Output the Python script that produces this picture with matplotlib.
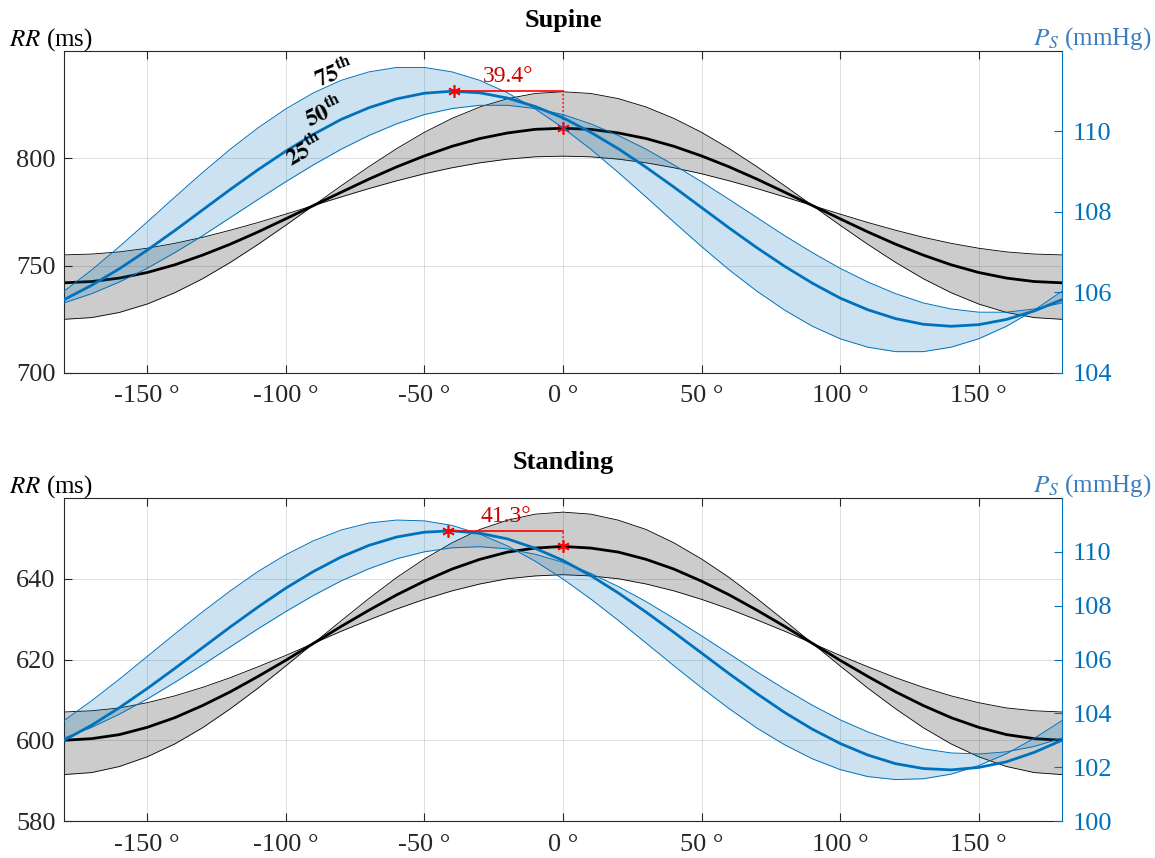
import matplotlib
matplotlib.use("Agg")
import matplotlib.pyplot as plt

plt.rcParams['font.family'] = ['Liberation Serif', 'DejaVu Serif']
plt.rcParams['mathtext.fontset'] = 'stix'
plt.rcParams['axes.unicode_minus'] = False

BLUE = '#0072BD'
AXIS = '#262626'

# respiratory phase (deg)
phase = [-180, -170, -160, -150, -140, -130, -120, -110, -100, -90, -80, -70, -60, -50, -40,
         -30, -20, -10, 0, 10, 20, 30, 40, 50, 60, 70, 80, 90, 100, 110, 120, 130, 140,
         150, 160, 170, 180]

# ---------- SUPINE ----------
sup_rr_25 = [755, 755.4, 756.4, 758.1, 760.4, 763.2, 766.5, 770.1, 774, 778, 782, 785.9, 789.5,
             792.8, 795.6, 797.9, 799.6, 800.7, 801, 800.7, 799.6, 797.9, 795.6, 792.8, 789.5,
             785.9, 782, 778, 774, 770.1, 766.5, 763.2, 760.4, 758.1, 756.4, 755.4, 755]
sup_rr_50 = [742, 742.6, 744.2, 746.8, 750.4, 754.9, 760, 765.7, 771.8, 778, 784.2, 790.3, 796,
             801.1, 805.6, 809.2, 811.8, 813.5, 814, 813.5, 811.8, 809.2, 805.6, 801.1, 796,
             790.3, 784.2, 778, 771.8, 765.7, 760, 754.9, 750.4, 746.8, 744.2, 742.6, 742]
sup_rr_75 = [725, 725.8, 728.2, 732.1, 737.4, 743.9, 751.5, 759.9, 768.8, 778, 787.2, 796.1, 804.5,
             812.1, 818.6, 823.9, 827.8, 830.2, 831, 830.2, 827.8, 823.9, 818.6, 812.1, 804.5,
             796.1, 787.2, 778, 768.8, 759.9, 751.5, 743.9, 737.4, 732.1, 728.2, 725.8, 725]

sup_ps_25 = [105.74, 105.97, 106.26, 106.60, 106.99, 107.41, 107.86, 108.31, 108.75, 109.17,
             109.56, 109.90, 110.19, 110.42, 110.57, 110.65, 110.65, 110.57, 110.42, 110.19,
             109.90, 109.56, 109.17, 108.75, 108.31, 107.86, 107.41, 106.99, 106.60, 106.26,
             105.97, 105.74, 105.59, 105.51, 105.51, 105.59, 105.74]
sup_ps_50 = [105.82, 106.18, 106.59, 107.05, 107.54, 108.05, 108.56, 109.05, 109.51, 109.93,
             110.30, 110.59, 110.81, 110.95, 111.00, 110.96, 110.83, 110.62, 110.34, 109.98,
             109.57, 109.11, 108.62, 108.11, 107.60, 107.11, 106.65, 106.23, 105.86, 105.57,
             105.35, 105.21, 105.16, 105.20, 105.33, 105.54, 105.82]
sup_ps_75 = [106.03, 106.56, 107.14, 107.75, 108.37, 108.98, 109.56, 110.09, 110.56, 110.96,
             111.27, 111.48, 111.59, 111.59, 111.48, 111.27, 110.96, 110.56, 110.09, 109.56,
             108.98, 108.37, 107.75, 107.14, 106.56, 106.03, 105.56, 105.16, 104.85, 104.64,
             104.53, 104.53, 104.64, 104.85, 105.16, 105.56, 106.03]

# ---------- STANDING ----------
sta_rr_25 = [607, 607.3, 608.0, 609.3, 611.0, 613.1, 615.5, 618.2, 621.0, 624, 627.0, 629.8, 632.5,
             634.9, 637.0, 638.7, 640.0, 640.7, 641, 640.7, 640.0, 638.7, 637.0, 634.9, 632.5,
             629.8, 627.0, 624, 621.0, 618.2, 615.5, 613.1, 611.0, 609.3, 608.0, 607.3, 607]
sta_rr_50 = [600, 600.4, 601.4, 603.2, 605.6, 608.6, 612, 615.8, 619.8, 624, 628.2, 632.2, 636,
             639.4, 642.4, 644.8, 646.6, 647.6, 648, 647.6, 646.6, 644.8, 642.4, 639.4, 636,
             632.2, 628.2, 624, 619.8, 615.8, 612, 608.6, 605.6, 603.2, 601.4, 600.4, 600]
sta_rr_75 = [591.5, 592.0, 593.5, 595.9, 599.1, 603.1, 607.8, 612.9, 618.4, 624, 629.6, 635.1, 640.3,
             644.9, 648.9, 652.2, 654.5, 656.0, 656.5, 656.0, 654.5, 652.2, 648.9, 644.9, 640.3,
             635.1, 629.6, 624, 618.4, 612.9, 607.8, 603.1, 599.1, 595.9, 593.5, 592.0, 591.5]

sta_ps_25 = [103.08, 103.48, 103.97, 104.53, 105.15, 105.80, 106.47, 107.14, 107.78, 108.38,
             108.92, 109.37, 109.74, 110.00, 110.15, 110.19, 110.11, 109.91, 109.61, 109.20,
             108.71, 108.15, 107.53, 106.88, 106.21, 105.54, 104.90, 104.30, 103.76, 103.31,
             102.94, 102.68, 102.53, 102.49, 102.57, 102.77, 103.08]
sta_ps_50 = [103.00, 103.56, 104.21, 104.92, 105.67, 106.44, 107.21, 107.95, 108.65, 109.27,
             109.81, 110.24, 110.55, 110.73, 110.78, 110.69, 110.48, 110.13, 109.68, 109.12,
             108.47, 107.76, 107.01, 106.24, 105.47, 104.73, 104.03, 103.41, 102.88, 102.45,
             102.13, 101.95, 101.90, 101.99, 102.20, 102.55, 103.00]
sta_ps_75 = [103.73, 104.47, 105.27, 106.11, 106.95, 107.77, 108.55, 109.27, 109.89, 110.41,
             110.81, 111.07, 111.18, 111.15, 110.98, 110.66, 110.22, 109.65, 108.99, 108.25,
             107.45, 106.61, 105.77, 104.95, 104.17, 103.45, 102.83, 102.31, 101.91, 101.65,
             101.54, 101.57, 101.74, 102.06, 102.50, 103.07, 103.73]

# phase lag of the PS median peak against the RR median peak
lag = [39.4, 41.3]
ps_peak = [111.0, 110.78]

x_ticks = [-150, -100, -50, 0, 50, 100, 150]


def draw_panel(ax, title, rr25, rr50, rr75, ps25, ps50, ps75,
               rr_lim, rr_ticks, ps_lim, ps_ticks, lag_deg, ps_max,
               title_pad=17, labels=False):
    ax2 = ax.twinx()

    # RR band + median (left axis)
    ax.fill_between(phase, rr25, rr75, color='black', alpha=0.2, lw=0)
    ax.plot(phase, rr25, color='black', lw=0.6)
    ax.plot(phase, rr75, color='black', lw=0.6)
    ax.plot(phase, rr50, color='black', lw=2)

    # PS band + median (right axis)
    ax2.fill_between(phase, ps25, ps75, color=BLUE, alpha=0.2, lw=0)
    ax2.plot(phase, ps25, color=BLUE, lw=0.7)
    ax2.plot(phase, ps75, color=BLUE, lw=0.7)
    ax2.plot(phase, ps50, color=BLUE, lw=2)

    ax.set_xlim(-180, 180)
    ax.set_ylim(*rr_lim)
    ax2.set_ylim(*ps_lim)
    ax.set_xticks(x_ticks)
    ax.set_xticklabels([f"{v} °" for v in x_ticks])
    ax.set_yticks(rr_ticks)
    ax2.set_yticks(ps_ticks)

    ax.grid(True, color=AXIS, alpha=0.15, lw=0.7)
    ax.tick_params(axis='both', direction='in', length=6, width=0.8, colors=AXIS,
                   labelsize=19, top=True, right=False)
    ax.tick_params(axis='x', pad=9)
    ax.tick_params(axis='y', pad=6)
    ax2.tick_params(axis='y', direction='in', length=6, width=0.8, colors=BLUE,
                    labelsize=19, pad=8)
    for s in ['left', 'top', 'bottom']:
        ax.spines[s].set_color(AXIS)
        ax2.spines[s].set_visible(False)
    ax.spines['right'].set_visible(False)
    ax2.spines['right'].set_color(BLUE)

    ax.set_title(title, fontsize=19, fontweight='bold', pad=title_pad)
    ax.text(-0.013, 0.995, "$RR$ (ms)", transform=ax.transAxes, ha='center',
            va='bottom', fontsize=18, color='black')
    ax2.text(1.03, 0.998, "$P_S$ (mmHg)", transform=ax.transAxes, ha='center',
             va='bottom', fontsize=18, color='#3C7DC0')

    # lag marker: PS peak -> RR peak at 0 deg
    rr_peak = rr50[phase.index(0)]
    ax2.plot([-lag_deg, 0], [ps_max, ps_max], color='red', lw=1.2, zorder=5)
    ax2.plot([-lag_deg], [ps_max], marker=(6, 2, 0), ms=9, color='red', mew=1.2, zorder=6)
    top_in_rr = ax.transData.inverted().transform(
        ax2.transData.transform((0, ps_max)))[1]
    ax.plot([0, 0], [rr_peak, top_in_rr], color='red', lw=1.1, ls=':', zorder=5)
    ax.plot([0], [rr_peak], marker=(6, 2, 0), ms=9, color='red', mew=1.2, zorder=6)
    ax2.annotate(f"{lag_deg}°", xy=(-lag_deg / 2, ps_max), xytext=(0, 3),
                 textcoords='offset points', ha='center', va='bottom',
                 fontsize=17, color='#CC0000', zorder=7)

    if labels:
        ax2.text(-82.4, 111.46, r"$\mathbf{75^{th}}$", rotation=22, ha='center',
                 va='center', fontsize=17)
        ax2.text(-86.0, 110.47, r"$\mathbf{50^{th}}$", rotation=26, ha='center',
                 va='center', fontsize=17)
        ax2.text(-93.2, 109.53, r"$\mathbf{25^{th}}$", rotation=30, ha='center',
                 va='center', fontsize=17)
    return ax2


fig = plt.figure(figsize=(11.55, 8.58), dpi=100)
ax_top = fig.add_axes([0.0554, 0.5653, 0.864, 0.3753])
ax_bot = fig.add_axes([0.0554, 0.0431, 0.864, 0.3765])

draw_panel(ax_top, "Supine", sup_rr_25, sup_rr_50, sup_rr_75,
           sup_ps_25, sup_ps_50, sup_ps_75,
           (700, 850), [700, 750, 800], (104, 112), [104, 106, 108, 110],
           lag[0], ps_peak[0], title_pad=17, labels=True)
draw_panel(ax_bot, "Standing", sta_rr_25, sta_rr_50, sta_rr_75,
           sta_ps_25, sta_ps_50, sta_ps_75,
           (580, 660), [580, 600, 620, 640], (100, 112), [100, 102, 104, 106, 108, 110],
           lag[1], ps_peak[1], title_pad=21)

fig.savefig("out.png", dpi=100)
